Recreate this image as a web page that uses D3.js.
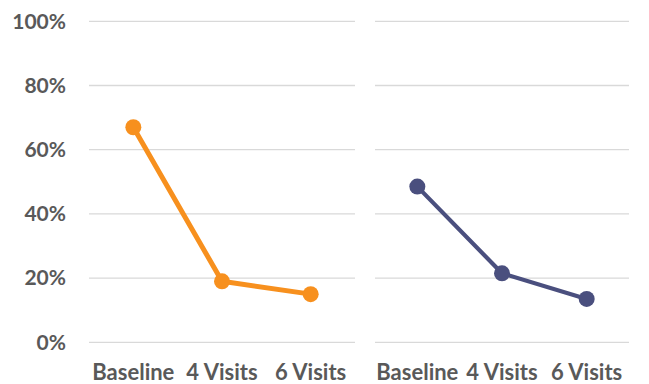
<!DOCTYPE html>
<html><head><meta charset="utf-8">
<script src="https://cdn.jsdelivr.net/npm/d3@7"></script>
<style>body{margin:0;background:#fff}svg{display:block}</style>
</head><body>
<svg id="c" width="649" height="384"></svg>
<script>
const categories = ["Baseline", "4 Visits", "6 Visits"];
const leftValues = [0.67, 0.19, 0.15];
const rightValues = [0.485, 0.215, 0.135];
const yTicks = [0, 0.2, 0.4, 0.6, 0.8, 1.0];

const svg = d3.select("#c");
const y = d3.scaleLinear().domain([0, 1]).range([342.3, 21.3]);
const font = "Lato, 'Open Sans', sans-serif";
const textColor = "#595959";

function panel(x0, x1, values, color, lw, r, showY) {
  const x = d3.scaleBand().domain(categories).range([x0, x1]);
  const g = svg.append("g");
  g.selectAll("line.grid").data(yTicks).enter().append("line")
    .attr("x1", x0).attr("x2", x1)
    .attr("y1", d => y(d)).attr("y2", d => y(d))
    .attr("stroke", "#d9d9d9").attr("stroke-width", 1.3);
  if (showY) {
    g.selectAll("text.y").data(yTicks).enter().append("text")
      .attr("x", 66).attr("y", d => y(d)).attr("dy", "0.35em")
      .attr("text-anchor", "end").attr("font-family", font).attr("font-weight", 700)
      .attr("font-size", 21).attr("fill", textColor)
      .text(d => d3.format(".0%")(d));
  }
  g.selectAll("text.x").data(categories).enter().append("text")
    .attr("x", d => x(d) + x.bandwidth() / 2).attr("y", 380)
    .attr("text-anchor", "middle").attr("font-family", font).attr("font-weight", 700)
    .attr("font-size", 22).attr("fill", textColor)
    .text(d => d);
  const line = d3.line().x((d, i) => x(categories[i]) + x.bandwidth() / 2).y(d => y(d));
  g.append("path").datum(values).attr("d", line).attr("fill", "none")
    .attr("stroke", color).attr("stroke-width", lw).attr("stroke-linejoin", "round");
  g.selectAll("circle").data(values).enter().append("circle")
    .attr("cx", (d, i) => x(categories[i]) + x.bandwidth() / 2).attr("cy", d => y(d))
    .attr("r", r).attr("fill", color);
}
panel(89, 355, leftValues, "#F7901E", 5, 8, true);
panel(375, 629, rightValues, "#4A4F7E", 4.2, 8, false);
</script>
</body></html>
